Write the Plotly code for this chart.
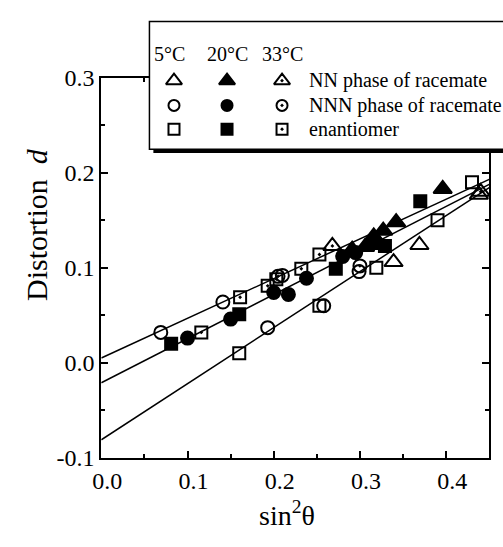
import plotly.graph_objects as go
import numpy as np

# ---------------- data ----------------
# NN phase of racemate (triangles)
NN_5C_X = [0.339, 0.369, 0.438]
NN_5C_Y = [0.106, 0.124, 0.177]
NN_20C_X = [0.291, 0.306, 0.316, 0.327, 0.342, 0.396]
NN_20C_Y = [0.119, 0.122, 0.133, 0.139, 0.148, 0.183]
NN_33C_X = [0.268, 0.440]
NN_33C_Y = [0.123, 0.180]
# NNN phase of racemate (circles)
NNN_5C_X = [0.069, 0.141, 0.193, 0.210, 0.258, 0.299]
NNN_5C_Y = [0.032, 0.064, 0.037, 0.092, 0.060, 0.096]
NNN_20C_X = [0.100, 0.150, 0.200, 0.217, 0.238, 0.280, 0.295]
NNN_20C_Y = [0.026, 0.046, 0.074, 0.072, 0.089, 0.112, 0.116]
NNN_33C_X = [0.205, 0.300]
NNN_33C_Y = [0.091, 0.102]
# enantiomer (squares)
ENA_5C_X = [0.160, 0.253, 0.319, 0.390, 0.430]
ENA_5C_Y = [0.010, 0.060, 0.100, 0.150, 0.190]
ENA_20C_X = [0.081, 0.160, 0.272, 0.316, 0.329, 0.370]
ENA_20C_Y = [0.020, 0.051, 0.099, 0.126, 0.123, 0.170]
ENA_33C_X = [0.116, 0.161, 0.193, 0.203, 0.232, 0.253]
ENA_33C_Y = [0.032, 0.069, 0.081, 0.088, 0.099, 0.114]

# fitted straight lines d = a + b*sin^2(theta)
FIT_INTERCEPTS = [0.005, -0.021, -0.081]
FIT_SLOPES = [0.418, 0.464, 0.590]
FIT_X_SPAN = [0.0, 0.45]

X_TICKS = [0.0, 0.1, 0.2, 0.3, 0.4]
X_TICKTEXT = ["0.0", "0.1", "0.2", "0.3", "0.4"]
Y_TICKS = [-0.1, 0.0, 0.1, 0.2, 0.3]
Y_TICKTEXT = ["-0.1", "0.0", "0.1", "0.2", "0.3"]

TEMPS = ["5°C", "20°C", "33°C"]
PHASES = ["NN phase of racemate", "NNN phase of racemate", "enantiomer"]

# ---------------- layout geometry (pixels) ----------------
W, H = 503, 547
PL, PR, PT, PB = 94, 489, 68, 467
FONT = "Liberation Serif"
BLACK = "black"

fig = go.Figure()

# fitted lines
xs = np.array(FIT_X_SPAN)
for a, b in zip(FIT_INTERCEPTS, FIT_SLOPES):
    fig.add_trace(go.Scatter(x=xs, y=a + b * xs, mode="lines",
                             line=dict(color=BLACK, width=1.5),
                             hoverinfo="skip", cliponaxis=True))

SYMS = {
    ("tri", 0): "triangle-up-open", ("tri", 1): "triangle-up", ("tri", 2): "triangle-up-open-dot",
    ("cir", 0): "circle-open", ("cir", 1): "circle", ("cir", 2): "circle-open-dot",
    ("sq", 0): "square-open", ("sq", 1): "square", ("sq", 2): "square-open-dot",
}
SIZES = {"tri": 16, "cir": 13, "sq": 12}

groups = [
    ("tri", 0, NN_5C_X, NN_5C_Y), ("tri", 1, NN_20C_X, NN_20C_Y), ("tri", 2, NN_33C_X, NN_33C_Y),
    ("cir", 0, NNN_5C_X, NNN_5C_Y), ("cir", 1, NNN_20C_X, NNN_20C_Y), ("cir", 2, NNN_33C_X, NNN_33C_Y),
    ("sq", 0, ENA_5C_X, ENA_5C_Y), ("sq", 1, ENA_20C_X, ENA_20C_Y), ("sq", 2, ENA_33C_X, ENA_33C_Y),
]
for shape, t, gx, gy in groups:
    fig.add_trace(go.Scatter(
        x=gx, y=gy, mode="markers",
        marker=dict(symbol=SYMS[(shape, t)], size=SIZES[shape], color=BLACK,
                    line=dict(color=BLACK, width=2)),
        cliponaxis=False))

# ---------------- legend drawn on a pixel-space overlay axis ----------------
LEG_COL_X = [168, 222, 278]
LEG_ROW_Y = [71, 97, 122]
LEG_HEAD_Y = 43
LEG_TEXT_X = 303
LEG_SIZES = {"tri": 14, "cir": 11, "sq": 11}
for r, shape in enumerate(["tri", "cir", "sq"]):
    for c in range(3):
        fig.add_trace(go.Scatter(
            x=[LEG_COL_X[c]], y=[LEG_ROW_Y[r]], mode="markers", xaxis="x2", yaxis="y2",
            marker=dict(symbol=SYMS[(shape, c)], size=LEG_SIZES[shape], color=BLACK,
                        line=dict(color=BLACK, width=2)),
            hoverinfo="skip"))

BOX = dict(x0=143, y0=9, x1=512, y1=143)
SH = 4
fig.add_shape(type="rect", xref="x2", yref="y2", layer="below",
              x0=BOX["x0"] + SH, y0=BOX["y0"] + SH, x1=BOX["x1"] + SH, y1=BOX["y1"] + SH,
              fillcolor=BLACK, line=dict(width=0))
fig.add_shape(type="rect", xref="x2", yref="y2", layer="below",
              x0=BOX["x0"], y0=BOX["y0"], x1=BOX["x1"], y1=BOX["y1"],
              fillcolor="white", line=dict(color=BLACK, width=1.5))

def px_to_paper(x, y):
    return x / W, 1 - y / H

for c, t in enumerate(TEMPS):
    ax, ay = px_to_paper(LEG_COL_X[c] - 5 if c == 0 else LEG_COL_X[c], LEG_HEAD_Y)
    fig.add_annotation(x=ax, y=ay, xref="paper", yref="paper", text=t, showarrow=False,
                       font=dict(family=FONT, size=20, color=BLACK), xanchor="center", yanchor="middle")
for r, p in enumerate(PHASES):
    ax, ay = px_to_paper(LEG_TEXT_X, LEG_ROW_Y[r])
    fig.add_annotation(x=ax, y=ay, xref="paper", yref="paper", text=p, showarrow=False,
                       font=dict(family=FONT, size=20, color=BLACK), xanchor="left", yanchor="middle")

# axis titles
tx, ty = px_to_paper(283, 525)
fig.add_annotation(x=tx, y=ty, xref="paper", yref="paper", text="sin<sup>2</sup>θ", showarrow=False,
                   font=dict(family=FONT, size=28, color=BLACK), xanchor="center", yanchor="middle")
tx, ty = px_to_paper(28, 222)
fig.add_annotation(x=tx, y=ty, xref="paper", yref="paper", text="Distortion  <i>d</i>", showarrow=False,
                   textangle=-90, font=dict(family=FONT, size=30, color=BLACK),
                   xanchor="center", yanchor="middle")

axis_common = dict(showline=True, linewidth=2, linecolor=BLACK, mirror="ticks",
                   ticks="inside", ticklen=7, tickwidth=1.5, tickcolor=BLACK,
                   showgrid=False, zeroline=False,
                   tickfont=dict(family=FONT, size=24, color=BLACK),
                   minor=dict(ticks="inside", ticklen=4, tickwidth=1.5, tickcolor=BLACK,
                              tickmode="linear", tick0=0, dtick=0.05, showgrid=False),
                   layer="above traces")

fig.update_layout(
    width=W, height=H, margin=dict(l=0, r=0, t=0, b=0),
    paper_bgcolor="white", plot_bgcolor="rgba(0,0,0,0)", showlegend=False,
    font=dict(family=FONT, color=BLACK),
    xaxis=dict(domain=[PL / W, PR / W], range=[0, 0.45], anchor="y",
               tickmode="array", tickvals=X_TICKS, ticktext=X_TICKTEXT,
               ticklabelshift=6, **axis_common),
    yaxis=dict(domain=[1 - PB / H, 1 - PT / H], range=[-0.1, 0.3], anchor="x",
               tickmode="array", tickvals=Y_TICKS, ticktext=Y_TICKTEXT, **axis_common),
    xaxis2=dict(domain=[0, 1], range=[0, W], anchor="y2", visible=False, fixedrange=True),
    yaxis2=dict(domain=[0, 1], range=[H, 0], anchor="x2", visible=False, fixedrange=True),
)

fig.write_html("out.html", config={"displayModeBar": False},
               post_script="document.body.style.margin='0px';")
